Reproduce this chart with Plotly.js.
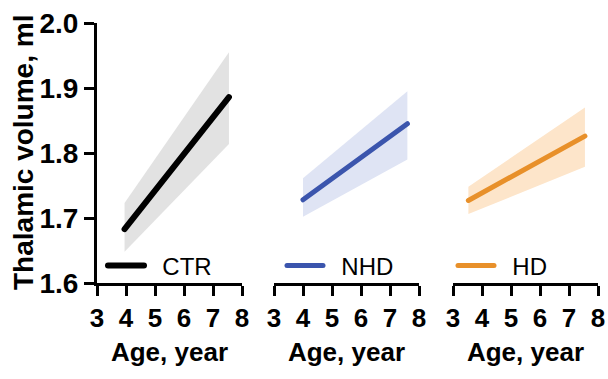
<!DOCTYPE html>
<html>
<head>
<meta charset="utf-8">
<script src="https://cdn.plot.ly/plotly-3.0.1.min.js"></script>
<style>
html,body{margin:0;padding:0;background:#fff;}
#chart{width:608px;height:379px;}
#chart .js-line{stroke-linecap:round;}
</style>
</head>
<body>
<div id="chart"></div>
<script>
// Data
const groupNames = ["CTR", "NHD", "HD"];
const ctrAge = [3.95, 7.55];
const ctrFit = [1.683, 1.886];
const ctrLow = [1.648, 1.814];
const ctrUp  = [1.723, 1.955];

const nhdAge = [4.0, 7.6];
const nhdFit = [1.728, 1.845];
const nhdLow = [1.702, 1.790];
const nhdUp  = [1.761, 1.895];

const hdAge = [3.53, 7.55];
const hdFit = [1.727, 1.826];
const hdLow = [1.706, 1.779];
const hdUp  = [1.748, 1.870];

const xTicks = [3, 4, 5, 6, 7, 8];
const yTicks = [1.6, 1.7, 1.8, 1.9, 2.0];
const yTitle = "Thalamic volume, ml";
const xTitle = "Age, year";

const lineColors = ["#000000", "#3b55ad", "#e8902a"];
const bandColors = ["#e2e2e2", "#dfe4f4", "#fde5ca"];
const lineWidths = [6, 5, 5];

const groups = [
  {age: ctrAge, fit: ctrFit, low: ctrLow, up: ctrUp, xa: "x"},
  {age: nhdAge, fit: nhdFit, low: nhdLow, up: nhdUp, xa: "x2"},
  {age: hdAge, fit: hdFit, low: hdLow, up: hdUp, xa: "x3"}
];
const legendIds = ["legend", "legend2", "legend3"];

const traces = [];
groups.forEach((g, i) => {
  traces.push({x: g.age, y: g.low, xaxis: g.xa, yaxis: "y", mode: "lines",
    line: {width: 0, color: bandColors[i]}, showlegend: false, hoverinfo: "skip"});
  traces.push({x: g.age, y: g.up, xaxis: g.xa, yaxis: "y", mode: "lines",
    line: {width: 0, color: bandColors[i]}, fill: "tonexty", fillcolor: bandColors[i],
    showlegend: false, hoverinfo: "skip"});
  traces.push({x: g.age, y: g.fit, xaxis: g.xa, yaxis: "y", mode: "lines",
    name: "\u00a0\u00a0" + groupNames[i], legend: legendIds[i],
    line: {width: lineWidths[i], color: lineColors[i]}, showlegend: true});
});

const fam = "Liberation Sans, Arial, Helvetica, sans-serif";
const W = 608, L = 97, R = 10;
const pw = W - L - R;
function dom(a, b) { return [(a - L) / pw, (b - L) / pw]; }

function xaxis(d) {
  return {
    domain: d, anchor: "y", range: [3, 8], tickvals: xTicks, ticktext: xTicks.map(String),
    showline: true, linewidth: 3, linecolor: "#000", ticks: "outside", ticklen: 10,
    tickwidth: 3, tickcolor: "#000", showgrid: false, zeroline: false, fixedrange: true,
    tickfont: {family: fam, size: 26, color: "#000", weight: "bold"},
    title: {text: xTitle, font: {family: fam, size: 26, color: "#000", weight: "bold"}, standoff: 11}
  };
}

function legendAt(px) {
  return {
    x: (px - L) / pw, y: (283 - 266) / 260, xanchor: "left", yanchor: "middle",
    bgcolor: "rgba(0,0,0,0)", borderwidth: 0, itemwidth: 36,
    font: {family: fam, size: 24, color: "#000"}, orientation: "h"
  };
}

const layout = {
  width: 608, height: 379,
  margin: {l: L, r: R, t: 23, b: 96},
  paper_bgcolor: "#fff", plot_bgcolor: "#fff",
  xaxis: xaxis(dom(97, 242)),
  xaxis2: xaxis(dom(274, 419)),
  xaxis3: xaxis(dom(453, 598)),
  yaxis: {
    range: [1.6, 2.0], tickvals: yTicks, tickformat: ".1f", anchor: "x",
    showline: true, linewidth: 3, linecolor: "#000", ticks: "outside", ticklen: 10,
    tickwidth: 3, tickcolor: "#000", showgrid: false, zeroline: false, fixedrange: true,
    tickfont: {family: fam, size: 28, color: "#000", weight: "bold"}
  },
  annotations: [{
    text: yTitle, xref: "paper", yref: "paper", x: (23 - L) / pw, y: 0.5,
    xanchor: "center", yanchor: "middle", textangle: -90, showarrow: false,
    font: {family: fam, size: 28, color: "#000", weight: "bold"}
  }],
  legend: legendAt(103),
  legend2: legendAt(282),
  legend3: legendAt(453),
  showlegend: true
};

Plotly.newPlot("chart", traces, layout, {displayModeBar: false, staticPlot: true});
</script>
</body>
</html>
